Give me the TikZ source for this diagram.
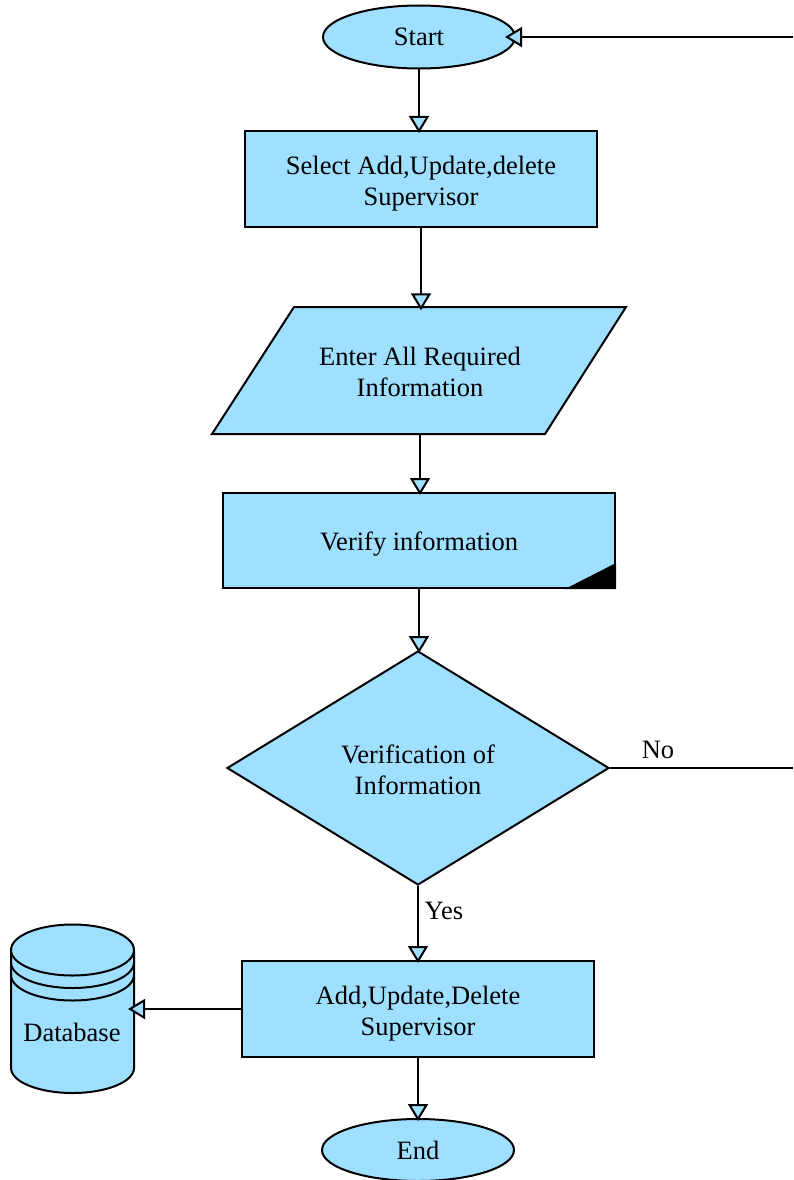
\documentclass[tikz,border=0pt]{standalone}
\usepackage{fontspec}
\setmainfont{Liberation Serif}
\usetikzlibrary{calc,shapes,arrows.meta}
\definecolor{skyfill}{HTML}{9FDFFF}
\newcommand{\lowstrut}[1]{\rule{0pt}{#1pt}}
\tikzset{
  flowshape/.style={draw=black,fill=skyfill,line width=2pt,inner sep=0pt,align=center,
    font=\fontsize{26.5}{31}\selectfont},
  termbox/.style={flowshape,ellipse,minimum width=192pt,minimum height=63pt},
  stepbox/.style={flowshape,rectangle,minimum width=352pt,minimum height=96pt},
  flowarrow/.style={line width=2pt,-{Triangle[length=17pt,width=20pt,fill=skyfill]},shorten >=-3pt},
  flowline/.style={line width=2pt},
  flowtext/.style={inner sep=0pt,align=center,font=\fontsize{26.5}{31}\selectfont}
}

\begin{document}
\begin{tikzpicture}[x=1pt,y=-1pt]
        \useasboundingbox (0,0) rectangle (793,1180);
        \node[termbox] (start) at (419,37) {Start};
        \node[stepbox] (select) at (421,179) {\lowstrut{27}Select Add,Update,delete\\Supervisor};
        % parallelogram
        \draw[flowline,fill=skyfill,line join=miter] (294,307) -- (626,307) -- (545,434) -- (212,434) -- cycle;
        \node[flowtext,minimum width=332pt,minimum height=127pt] (enter) at (420,371) {\lowstrut{21}Enter All Required\\Information};
        \node[stepbox,minimum width=392pt,minimum height=95pt] (verify) at (419,540.5) {\lowstrut{26}Verify information};
        \fill ($(verify.south east)+(0,-26)$) -- (verify.south east) -- ($(verify.south east)+(-51,0)$) -- cycle;
        \node[flowshape,diamond,aspect=1.63,minimum width=382pt,minimum height=234pt] (check) at (418,768) {\lowstrut{23}Verification of\\Information};
        \node[stepbox] (apply) at (418,1009) {\lowstrut{27}Add,Update,Delete\\Supervisor};
        \node[termbox,minimum height=62pt] (finish) at (418,1150) {End};
        % database
        \draw[flowline,fill=skyfill] (11,950) -- (11,1068) arc[start angle=180,end angle=0,x radius=61.5,y radius=25] -- (134,950);
        \draw[flowline,fill=skyfill] (72.5,950) ellipse [x radius=61.5,y radius=25.5];
        \foreach \y in {962.5,975}
        \draw[flowline] (11,\y) arc[start angle=180,end angle=0,x radius=61.5,y radius=25.5];
        \node[flowtext] (db) at (72,1032) {Database};
        \coordinate (dbport) at (134,1009);
        \coordinate (backin) at (793,37);
        \coordinate (noout) at (793,768);
        \foreach \a/\b in {start/select,select/enter,enter/verify,verify/check,check/apply,apply/finish}
        \draw[flowarrow] (\a.south) -- (\a.south |- \b.north);
        \draw[flowarrow,shorten >=-11pt] (backin) -- (start.east);
        \draw[flowarrow,shorten >=-6pt] (apply.west) -- (dbport);
        \draw[flowline] (check.east) -- (noout);
        \node[flowtext] (no) at (658,750) {No};
        \node[flowtext] (yes) at (444,911) {Yes};
    \end{tikzpicture}
\end{document}
